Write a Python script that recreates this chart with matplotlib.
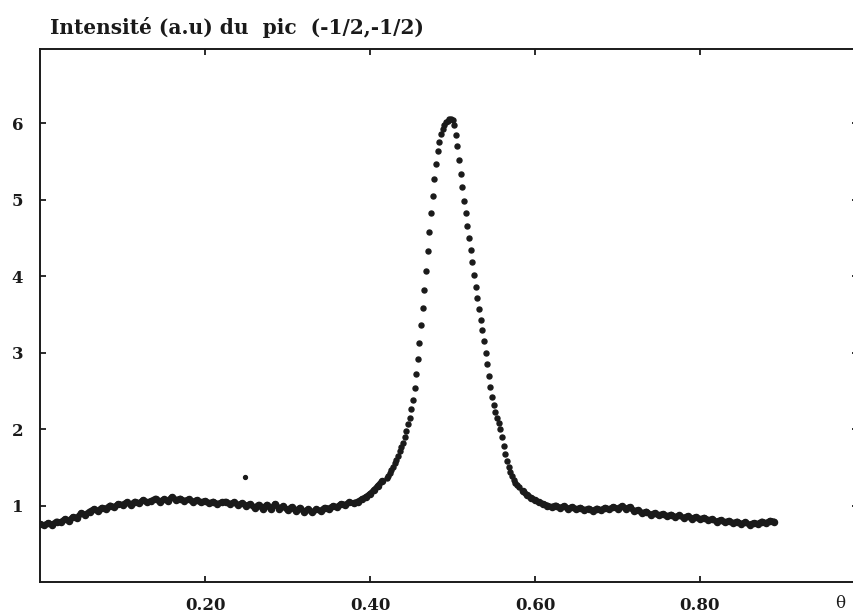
import numpy as np
import matplotlib
matplotlib.use('Agg')
import matplotlib.pyplot as plt

# intensite du pic (-1/2,-1/2) en fonction de theta
pas_fond = 0.005
pas_pic = 0.002

# fond gauche : theta = 0.000 ... 0.415
inten_gauche = [0.76, 0.74, 0.77, 0.75, 0.79, 0.78, 0.82, 0.80, 0.85, 0.84,
                0.90, 0.88, 0.92, 0.95, 0.93, 0.97, 0.96, 1.00, 0.98, 1.02,
                1.01, 1.04, 1.01, 1.05, 1.03, 1.07, 1.04, 1.06, 1.09, 1.05,
                1.08, 1.06, 1.11, 1.07, 1.09, 1.06, 1.08, 1.05, 1.07, 1.04,
                1.06, 1.03, 1.05, 1.02, 1.04, 1.05, 1.02, 1.04, 1.01, 1.03,
                1.00, 1.02, 0.97, 1.01, 0.96, 1.01, 0.95, 1.02, 0.96, 0.99,
                0.94, 0.98, 0.93, 0.97, 0.92, 0.95, 0.91, 0.95, 0.93, 0.97,
                0.96, 0.99, 0.98, 1.02, 1.01, 1.04, 1.03, 1.05, 1.08, 1.11,
                1.15, 1.20, 1.26, 1.32]
debut_gauche = 0.0

# pic : theta = 0.420 ... 0.580
inten_pic = [1.36, 1.39, 1.43, 1.47, 1.51, 1.55, 1.60, 1.65, 1.71, 1.76,
             1.82, 1.90, 1.98, 2.06, 2.14, 2.26, 2.38, 2.54, 2.72, 2.92,
             3.12, 3.36, 3.58, 3.82, 4.07, 4.33, 4.58, 4.82, 5.05, 5.27,
             5.47, 5.63, 5.76, 5.86, 5.93, 5.98, 6.01, 6.03, 6.05, 6.06,
             6.04, 5.97, 5.85, 5.70, 5.52, 5.34, 5.16, 4.98, 4.82, 4.66,
             4.50, 4.34, 4.18, 4.02, 3.86, 3.71, 3.57, 3.43, 3.30, 3.15,
             3.00, 2.85, 2.70, 2.55, 2.42, 2.31, 2.22, 2.15, 2.08, 2.00,
             1.90, 1.78, 1.68, 1.58, 1.50, 1.44, 1.39, 1.34, 1.30, 1.27,
             1.24]
debut_pic = 0.42

# fond droit : theta = 0.585 ... 0.890
inten_droite = [1.19, 1.14, 1.10, 1.07, 1.04, 1.02, 1.00, 0.98, 1.00, 0.97,
                0.99, 0.96, 0.98, 0.95, 0.97, 0.94, 0.96, 0.93, 0.96, 0.94,
                0.97, 0.95, 0.98, 0.96, 0.99, 0.96, 0.98, 0.93, 0.94, 0.90,
                0.92, 0.88, 0.90, 0.87, 0.89, 0.86, 0.88, 0.85, 0.87, 0.84,
                0.86, 0.83, 0.85, 0.82, 0.84, 0.81, 0.82, 0.79, 0.81, 0.78,
                0.80, 0.77, 0.79, 0.76, 0.78, 0.75, 0.77, 0.76, 0.79, 0.77,
                0.80, 0.79]
debut_droite = 0.585

# point isole
point_isole = (0.2485, 1.37)

x_ticks = [0.2, 0.4, 0.6, 0.8]
x_labels = ['0.20', '0.40', '0.60', '0.80']
y_ticks = [1, 2, 3, 4, 5, 6]

theta_gauche = debut_gauche + pas_fond * np.arange(len(inten_gauche))
theta_pic = debut_pic + pas_pic * np.arange(len(inten_pic))
theta_droite = debut_droite + pas_fond * np.arange(len(inten_droite))

plt.rcParams['font.family'] = 'DejaVu Serif'

fig = plt.figure(figsize=(8.54, 6.16), dpi=100)
ax = fig.add_axes([40/854, 34/616, 818/854, 533/616])

for th, it in [(theta_gauche, inten_gauche), (theta_droite, inten_droite)]:
    ax.plot(th, it, color='#1a1a1a', lw=4.4, marker='o', ms=4.4, solid_capstyle='round')
ax.plot(theta_pic, inten_pic, ls='none', marker='o', ms=3.6, color='#1a1a1a')
ax.plot([point_isole[0]], [point_isole[1]], ls='none', marker='o', ms=2.8, color='#1a1a1a')

ax.set_xlim(0, 818/825)
ax.set_ylim(0, 6.97)
ax.set_xticks(x_ticks)
ax.set_xticklabels(x_labels)
ax.set_yticks(y_ticks)
ax.tick_params(direction='in', length=4.5, width=1.3, top=True, right=True,
               labelsize=12, colors='#1a1a1a')
ax.tick_params(axis='x', pad=11)
ax.tick_params(axis='y', pad=12)
for lab in ax.get_xticklabels() + ax.get_yticklabels():
    lab.set_fontweight('bold')
for sp in ax.spines.values():
    sp.set_linewidth(1.4)
    sp.set_color('#1a1a1a')

fig.text(50/854, 1 - 28/616, 'Intensité (a.u) du  pic  (-1/2,-1/2)',
         fontsize=14.5, fontweight='bold', va='center', ha='left', color='#1a1a1a')
fig.text(840/854, 1 - 604/616, 'θ', fontsize=12, va='center', ha='center', color='#1a1a1a')

plt.savefig('out.png', dpi=100)
